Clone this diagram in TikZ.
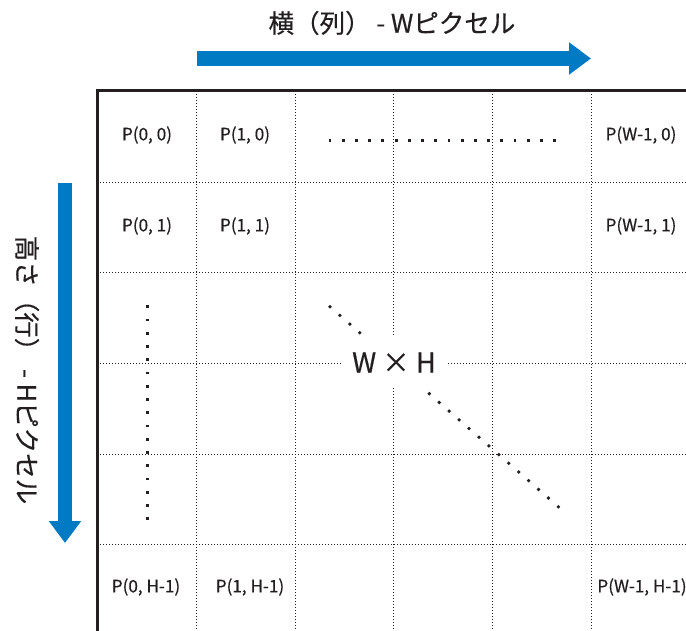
\documentclass[tikz,border=0pt]{standalone}
\usepackage{fontspec}
\setmainfont[FakeBold=0.5,AutoFakeBold=0.5]{Noto Sans CJK JP}
\usetikzlibrary{arrows.meta}
\definecolor{arrowblue}{RGB}{0,122,194}
\definecolor{ink}{RGB}{35,31,32}
\begin{document}
\begin{tikzpicture}[x=1bp,y=-1bp,
  gridline/.style={line width=0.8bp, dash pattern=on 0.8bp off 2.2bp, ink},
  border/.style={line width=3bp, ink},
  cell/.style={font=\fontsize{17.2}{20}\selectfont\bfseries, inner sep=0, text=ink},
  sqdot/.style={fill=ink, draw=none, rectangle, inner sep=0, minimum size=2.8bp},
  rdot/.style={fill=ink, draw=none, circle, inner sep=0, minimum size=3.8bp},
  bluearrow/.style={arrowblue, line width=15bp, -{Triangle[length=22bp,width=31bp]}},
  title/.style={font=\fontsize{25.6}{28}\selectfont\bfseries, inner sep=0, text=ink}
]
\useasboundingbox (0,0) rectangle (686,631);
% grid lines
\foreach \x in {196,295,393.5,492,591} \draw[gridline] (\x,91) -- (\x,631);
\foreach \y in {182,272.5,363,454,544} \draw[gridline] (97,\y) -- (686,\y);
% border
\draw[border] (97,631) -- (97,91) -- (686,91);
% arrows
\coordinate (hs) at (197,58.5);
\coordinate (he) at (591,58.5);
\draw[bluearrow] (hs) -- (he);
\coordinate (vs) at (65,183);
\coordinate (ve) at (65,543);
\draw[bluearrow, line width=14bp] (vs) -- (ve);
% titles
\node[title] (toplabel) at (392,23) {横（列） - Wピクセル};
\node[title, rotate=-90] (leftlabel) at (27,370) {高さ（行） - Hピクセル};
% cell labels
\node[cell] (p00) at (147,135) {P(0, 0)};
\node[cell] (p10) at (245,135) {P(1, 0)};
\node[cell] (pw0) at (641,135) {P(W-1, 0)};
\node[cell] (p01) at (147,226) {P(0, 1)};
\node[cell] (p11) at (245,226) {P(1, 1)};
\node[cell] (pw1) at (641,226) {P(W-1, 1)};
\node[cell] (p0h) at (146,587) {P(0, H-1)};
\node[cell] (p1h) at (250,587) {P(1, H-1)};
\node[cell] (pwh) at (642,587) {P(W-1, H-1)};
% row dots
\foreach \i in {0,...,17} \node[sqdot] (rd\i) at (330+13.22*\i,140.7) {};
% column dots
\foreach \i in {0,...,16} \node[sqdot] (cd\i) at (147.3,306.7+13.25*\i) {};
% W x H box
\node[fill=white, minimum width=103bp, minimum height=51bp, inner sep=0,
  font=\fontsize{27.5}{32}\selectfont\bfseries, text=ink] (wh) at (394,362.5) {W × H};
% diagonal dots
\foreach \k in {0,...,3,10,11,...,23} \node[rdot] (dd\k) at (330+9.93*\k,306.7+8.7*\k) {};
\end{tikzpicture}
\end{document}
